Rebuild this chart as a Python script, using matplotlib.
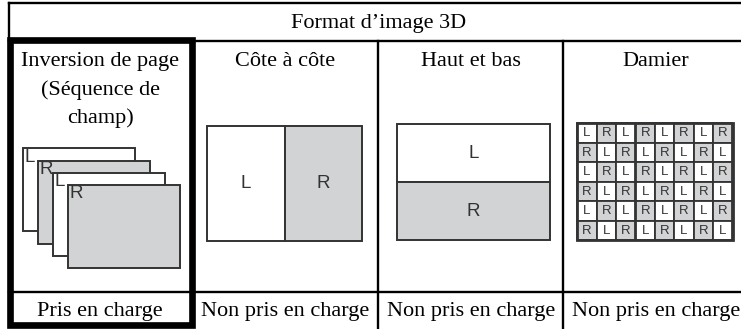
import matplotlib.pyplot as plt
from matplotlib.patches import Rectangle

# ---- content ----
header = "Format d\u2019image 3D"
formats = [["Inversion de page", "(Séquence de", "champ)"], ["Côte à côte"], ["Haut et bas"], ["Damier"]]
support = ["Pris en charge", "Non pris en charge", "Non pris en charge", "Non pris en charge"]
stack_labels = ["L", "R", "L", "R"]
side_labels = ["L", "R"]
topbottom_labels = ["L", "R"]
checker = ["LRLRLRLR",
           "RLRLRLRL",
           "LRLRLRLR",
           "RLRLRLRL",
           "LRLRLRLR",
           "RLRLRLRL"]

# ---- layout (pixels) ----
W, H = 741, 329
col_x = [8.5, 191.7, 378.3, 563.3, 748]
top_y, head_y, row_y = 2.8, 40.8, 291.7
gray = "#d1d3d4"
edge = "#333333"
serif = "Liberation Serif"
sans = "Liberation Sans"

fig = plt.figure(figsize=(W / 100, H / 100), dpi=100)
ax = fig.add_axes([0, 0, 1, 1])
ax.set_xlim(0, W)
ax.set_ylim(H, 0)
ax.axis("off")

# table lines
ax.plot([col_x[0], W + 5], [top_y, top_y], color="black", lw=1.7)
ax.plot([col_x[0], W + 5], [head_y, head_y], color="black", lw=1.7)
ax.plot([col_x[0], W + 5], [row_y, row_y], color="black", lw=1.7)
ax.plot([col_x[0], col_x[0]], [top_y, head_y], color="black", lw=1.7)
for x in col_x[2:4]:
    ax.plot([x, x], [head_y, H + 5], color="black", lw=1.7)

# thick frame around first column
ax.add_patch(Rectangle((10, 39.5), 181.7, 285.5, fill=False, ec="black", lw=4.8, zorder=5))

ax.text((col_x[0] + col_x[4]) / 2, 28, header, ha="center", va="baseline",
        family=serif, fontsize=16)
for i, lines in enumerate(formats):
    cx = (col_x[i] + col_x[i + 1]) / 2
    for j, line in enumerate(lines):
        ax.text(cx, 66 + 28.5 * j, line, ha="center", va="baseline", family=serif, fontsize=16)
    ax.text(cx, 316, support[i], ha="center", va="baseline", family=serif, fontsize=16)

# page flip stack
for k, lab in enumerate(stack_labels):
    x0 = 23 + 15 * k
    y0 = [148, 161, 173, 185][k]
    fc = gray if lab == "R" else "white"
    ax.add_patch(Rectangle((x0, y0), 112, 83, fc=fc, ec=edge, lw=1.4, zorder=2 + k * 0.1))
    ax.text(x0 + 1.5, y0 + 0.5, lab, ha="left", va="top", family=sans, fontsize=13.5,
            color=edge, zorder=2 + k * 0.1)

# side by side
sx, sy, sw, sh = 207, 126, 155, 115
for k, lab in enumerate(side_labels):
    fc = gray if lab == "R" else "white"
    ax.add_patch(Rectangle((sx + k * sw / 2, sy), sw / 2, sh, fc=fc, ec=edge, lw=1.4))
    ax.text(sx + k * sw / 2 + sw / 4, sy + sh / 2, lab, ha="center", va="center",
            family=sans, fontsize=13.5, color=edge)

# top and bottom
tx, ty, tw, th = 397, 124, 153, 116
for k, lab in enumerate(topbottom_labels):
    fc = gray if lab == "R" else "white"
    ax.add_patch(Rectangle((tx, ty + k * th / 2), tw, th / 2, fc=fc, ec=edge, lw=1.4))
    ax.text(tx + tw / 2, ty + k * th / 2 + th / 4, lab, ha="center", va="center",
            family=sans, fontsize=13.5, color=edge)

# checkerboard
cx0, cy0, cw, ch = 577.3, 123.3, 19.4, 19.5
for r, row in enumerate(checker):
    for c, lab in enumerate(row):
        fc = gray if lab == "R" else "white"
        ax.add_patch(Rectangle((cx0 + c * cw, cy0 + r * ch), cw, ch, fc=fc, ec=edge, lw=1.3))
        ax.text(cx0 + (c + 0.5) * cw, cy0 + (r + 0.5) * ch, lab, ha="center", va="center",
                family=sans, fontsize=9.5, color=edge)
ax.add_patch(Rectangle((cx0, cy0), 8 * cw, 6 * ch, fill=False, ec=edge, lw=2))

fig.savefig("out.png", dpi=100)
